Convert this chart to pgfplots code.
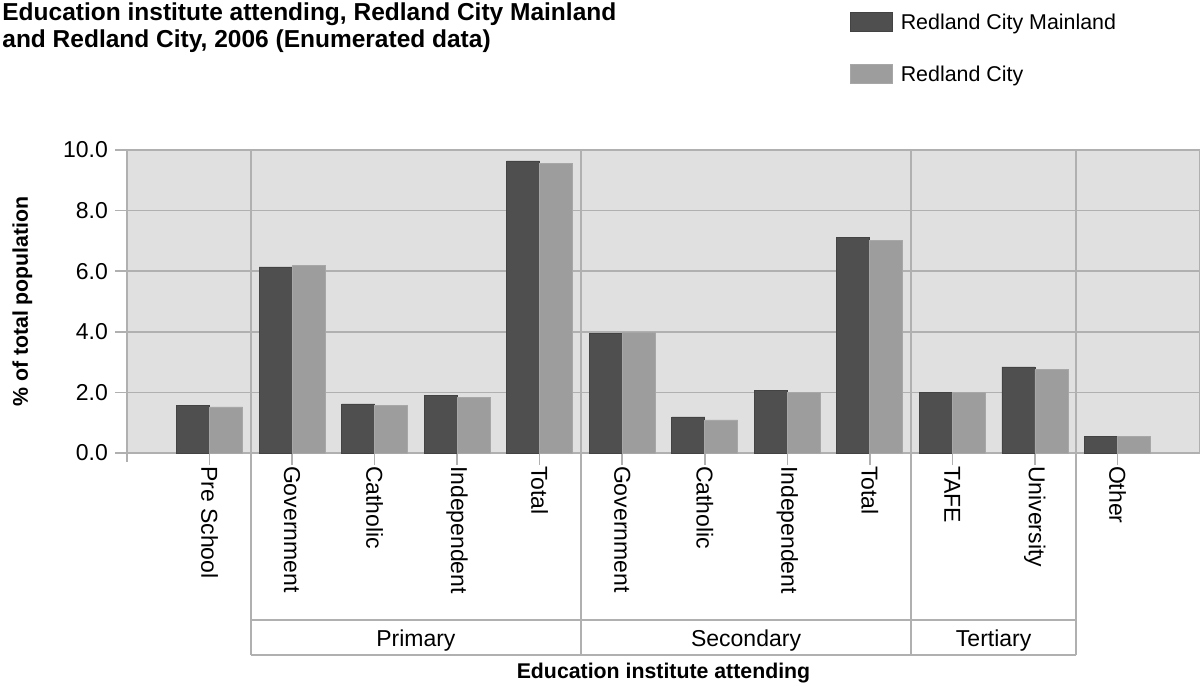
\documentclass[border=0pt]{standalone}
\usepackage{pgfplots}
\pgfplotsset{compat=1.18}
\usepackage{fontspec}
\setmainfont{Liberation Sans}
\definecolor{bggray}{HTML}{E0E0E0}
\definecolor{gridgray}{HTML}{B0B0B0}
\definecolor{barDark}{HTML}{4F4F4F}
\definecolor{barLight}{HTML}{9D9D9D}
\begin{document}
\begin{tikzpicture}[x=1pt,y=1pt]
\begin{axis}[
  at={(63.5pt,-226.5pt)}, anchor=south west,
  scale only axis, width=536.5pt, height=151.5pt,
  xmin=-1, xmax=12, ymin=0, ymax=10,
  clip=false,
  axis background/.style={fill=bggray},
  axis line style={gridgray, line width=0.8pt},
  ymajorgrids, grid style={gridgray, line width=0.8pt},
  tick align=outside, major tick length=6pt,
  tick style={gridgray, line width=0.8pt},
  xtick={0,...,11},
  xticklabels={Pre School, Government, Catholic, Independent, Total, Government, Catholic, Independent, Total, TAFE, University, Other},
  xticklabel style={yshift=3pt, rotate=-90, anchor=west, font=\fontsize{11.5}{13}\selectfont},
  ytick={0,2,...,10},
  yticklabel style={font=\fontsize{11.5}{13}\selectfont, /pgf/number format/.cd, fixed, fixed zerofill, precision=1},
  /pgf/number format/assume math mode=true,
  xtick pos=bottom, ytick pos=left,
  xlabel={Education institute attending},
  ylabel={\% of total population},
  xlabel style={font=\fontsize{10.65}{12}\selectfont\bfseries, at={(axis description cs:0.5,-0.727)}, anchor=center},
  ylabel style={font=\fontsize{10.65}{12}\selectfont\bfseries, at={(axis description cs:-0.0975,0.5)}, anchor=center},
  legend style={at={(axis description cs:0.6738,1.4554)}, anchor=north west, draw=none, fill=none,
    inner sep=0pt, outer sep=0pt, row sep=14.75pt, font=\fontsize{10.7}{12}\selectfont,
    nodes={inner sep=0pt, text height=8pt, text depth=2.5pt}},
  legend cell align=left,
  legend image code/.code={\fill[#1] (0pt,-3.75pt) rectangle (21pt,5.75pt); \path (25pt,0pt);},
]
\addplot[ybar, bar width=0.4, bar shift=-0.2, fill=barDark, draw=barDark!85!black, line width=0.4pt]
  coordinates {(0,1.57) (1,6.14) (2,1.62) (3,1.90) (4,9.64) (5,3.95) (6,1.19) (7,2.06) (8,7.11) (9,2.01) (10,2.84) (11,0.55)};
\addlegendentry{Redland City Mainland}
\addplot[ybar, bar width=0.4, bar shift=0.2, fill=barLight, draw=barLight!90!white, line width=0.4pt]
  coordinates {(0,1.52) (1,6.19) (2,1.57) (3,1.82) (4,9.55) (5,3.97) (6,1.09) (7,2.00) (8,7.02) (9,1.99) (10,2.75) (11,0.55)};
\addlegendentry{Redland City}
% group separators and boxes
\draw[gridgray, line width=0.8pt] (axis cs:0.5,10) -- (axis cs:0.5,-6.667);
\draw[gridgray, line width=0.8pt] (axis cs:4.5,10) -- (axis cs:4.5,-6.667);
\draw[gridgray, line width=0.8pt] (axis cs:8.5,10) -- (axis cs:8.5,-6.667);
\draw[gridgray, line width=0.8pt] (axis cs:10.5,10) -- (axis cs:10.5,-6.667);
\draw[gridgray, line width=0.8pt] (axis cs:0.5,-5.512) -- (axis cs:10.5,-5.512);
\draw[gridgray, line width=0.8pt] (axis cs:0.5,-6.667) -- (axis cs:10.5,-6.667);
\draw[gridgray, line width=0.8pt] (axis cs:-1,0) -- (axis cs:-1,-0.3);
\node[font=\fontsize{11.5}{13}\selectfont] at (axis cs:2.5,-6.19) {Primary};
\node[font=\fontsize{11.5}{13}\selectfont] at (axis cs:6.5,-6.19) {Secondary};
\node[font=\fontsize{11.5}{13}\selectfont] at (axis cs:9.5,-6.19) {Tertiary};
\end{axis}
\node[anchor=base west, inner sep=0pt, font=\fontsize{12.25}{14}\selectfont\bfseries] at (1pt,-10pt) {Education institute attending, Redland City Mainland};
\node[anchor=base west, inner sep=0pt, font=\fontsize{12.25}{14}\selectfont\bfseries] at (1pt,-23.5pt) {and Redland City, 2006 (Enumerated data)};
\pgfresetboundingbox
\useasboundingbox (0pt,0pt) rectangle (600pt,-343pt);
\end{tikzpicture}
\end{document}
